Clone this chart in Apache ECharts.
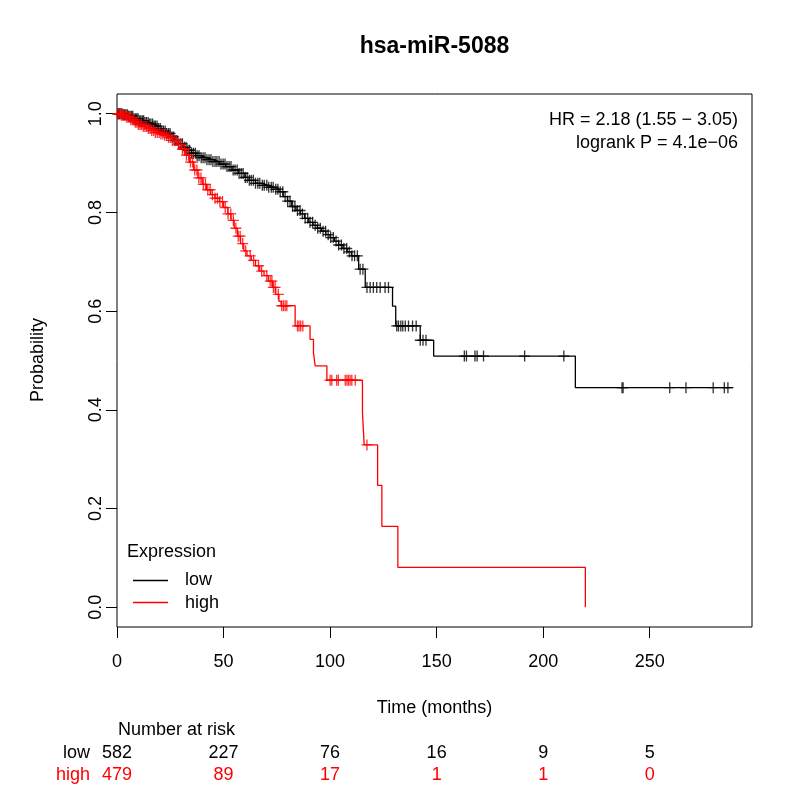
<!DOCTYPE html>
<html>
<head>
<meta charset="utf-8">
<script src="https://cdn.jsdelivr.net/npm/echarts@6/dist/echarts.min.js"></script>
<style>
  html, body { margin: 0; padding: 0; background: #fff; }
  #chart { width: 800px; height: 800px; }
</style>
</head>
<body>
<div id="chart"></div>
<script>
// Kaplan-Meier steps: time of each step and survival after it
const lowTimes = [0, 3, 5, 8, 10, 13, 15, 17, 19, 21, 23, 25, 27, 29, 31, 33, 35, 37, 39, 42, 45, 48, 51, 54, 57, 60, 62, 65, 68, 71, 74, 76, 78, 80, 82, 84, 86, 88, 90, 92, 94, 96, 98, 100, 102, 104, 106, 108, 110, 113.4, 116.5, 129.3, 130.8, 142.3, 148.6, 215.1];
const lowSurv  = [1.0, 0.998, 0.995, 0.99, 0.986, 0.982, 0.979, 0.975, 0.97, 0.965, 0.96, 0.953, 0.946, 0.939, 0.932, 0.926, 0.92, 0.915, 0.911, 0.907, 0.903, 0.898, 0.893, 0.886, 0.879, 0.871, 0.865, 0.859, 0.855, 0.851, 0.847, 0.842, 0.832, 0.823, 0.812, 0.804, 0.797, 0.788, 0.78, 0.774, 0.768, 0.762, 0.755, 0.749, 0.742, 0.734, 0.727, 0.72, 0.712, 0.685, 0.648, 0.61, 0.57, 0.541, 0.509, 0.445];
const lowEnd = 289;

const highTimes = [0, 2, 4, 6, 8, 10, 12, 14, 16, 18, 20, 22, 24, 26, 28, 30, 32, 34, 36, 38, 40, 42, 44, 46, 48, 50, 52, 53.5, 55, 56.5, 58, 59.5, 61, 63, 65, 67, 69, 71, 73, 74.5, 76, 77, 83.6, 90.6, 92.2, 93, 98.5, 115.2, 116, 122.3, 124.3, 131.8, 219.8];
const highSurv  = [1.0, 0.997, 0.993, 0.988, 0.983, 0.978, 0.974, 0.97, 0.966, 0.962, 0.959, 0.956, 0.952, 0.946, 0.938, 0.928, 0.916, 0.902, 0.886, 0.87, 0.857, 0.846, 0.836, 0.829, 0.822, 0.81, 0.797, 0.784, 0.768, 0.752, 0.737, 0.722, 0.712, 0.703, 0.692, 0.681, 0.672, 0.661, 0.648, 0.634, 0.62, 0.611, 0.57, 0.543, 0.516, 0.489, 0.46, 0.394, 0.329, 0.247, 0.164, 0.081, 0.0];

// censoring times
const lowCensor = [0.3, 0.8, 1.2, 1.9, 2.4, 3.1, 3.6, 4.2, 4.9, 5.5, 6.1, 6.8, 7.4, 8.0, 8.7, 9.3, 9.9, 10.6, 11.2, 11.9, 12.5, 13.1, 13.8, 14.6, 15.2, 15.9, 16.7, 17.4, 18.0, 18.8, 19.5, 20.3, 21.0, 21.8, 22.6, 23.3, 24.1, 24.9, 25.8, 26.6, 27.3, 28.2, 29.0, 29.9, 30.7, 31.6, 32.4, 33.3, 34.1, 35.0, 35.9, 36.8, 37.6, 38.5, 39.5, 40.4, 41.3, 42.2, 43.2, 44.1, 45.0, 46.0, 46.9, 47.9, 48.8, 49.8, 50.7, 51.6, 52.6, 53.5, 54.5, 55.4, 56.4, 57.3, 58.3, 59.2, 60.2, 61.1, 62.1, 63.0, 64.0, 65.0, 66.1, 67.0, 68.2, 69.1, 70.3, 71.2, 72.4, 73.3, 74.5, 75.5, 76.6, 77.8, 78.9, 80.1, 81.2, 82.4, 83.5, 84.7, 85.9, 87.0, 88.3, 89.5, 90.6, 91.8, 93.0, 94.2, 95.4, 96.7, 97.9, 99.1, 100.3, 101.5, 102.8, 104.0, 105.3, 106.5, 107.8, 109.0, 110.3, 111.5, 112.8, 114.1, 115.4, 117.3, 118.8, 120.3, 121.9, 123.5, 125.8, 127.4, 131.3, 132.1, 133.2, 134.1, 135.3, 136.8, 138.7, 140.4, 142.3, 143.6, 145.0, 163.0, 164.0, 168.0, 169.0, 172.0, 191.3, 209.7, 237.0, 237.5, 259.4, 267.0, 279.8, 285.0, 286.7];
const highCensor = [0.4, 0.9, 1.5, 2.1, 2.7, 3.3, 3.9, 4.6, 5.2, 5.9, 6.5, 7.2, 7.9, 8.6, 9.3, 10.0, 10.8, 11.5, 12.3, 13.1, 13.9, 14.7, 15.5, 16.3, 17.2, 18.0, 18.9, 19.8, 20.6, 21.5, 22.4, 23.3, 24.2, 25.1, 26.0, 27.0, 27.9, 28.8, 29.8, 30.7, 31.7, 32.6, 33.6, 34.5, 35.5, 36.5, 37.5, 38.4, 39.4, 40.5, 41.5, 42.6, 43.7, 44.8, 46.0, 47.1, 48.3, 49.5, 50.8, 52.1, 53.4, 54.6, 55.8, 56.9, 57.8, 59.0, 60.4, 62.5, 64.1, 66.4, 67.9, 70.3, 71.9, 72.7, 73.4, 74.2, 75.7, 77.3, 78.1, 78.9, 79.7, 84.7, 85.4, 86.2, 87.2, 100.0, 100.8, 103.1, 103.9, 107.1, 107.9, 108.6, 109.4, 110.2, 111.8, 117.3];

// number at risk table
const riskTimes = [0, 50, 100, 150, 200, 250];
const riskLow = [582, 227, 76, 16, 9, 5];
const riskHigh = [479, 89, 17, 1, 1, 0];

const xTicks = [0, 50, 100, 150, 200, 250];
const yTicks = [0, 0.2, 0.4, 0.6, 0.8, 1.0];

const FONT = 'Liberation Sans, Arial, Helvetica, sans-serif';
const RED = '#ff0000';
const PLUS = 'path://M4.4,0H5.6V4.4H10V5.6H5.6V10H4.4V5.6H0V4.4H4.4Z';

function survAt(times, surv, t) {
    let s = surv[0];
    for (let i = 0; i < times.length; i++) {
        if (times[i] <= t) s = surv[i];
    }
    return s;
}

function curveData(times, surv, end) {
    const d = times.map((t, i) => [t, surv[i]]);
    if (end != null) d.push([end, surv[surv.length - 1]]);
    return d;
}

function censorData(times, surv, cens) {
    return cens.map(t => [t, survAt(times, surv, t)]);
}

const chart = echarts.init(document.getElementById('chart'));

const axisCommon = {
    type: 'value',
    axisLine: { show: false, onZero: false },
    splitLine: { show: false },
    axisTick: { show: true, inside: false, length: 11, lineStyle: { color: '#000', width: 1 } },
    axisLabel: { color: '#000', fontFamily: FONT, fontSize: 18 }
};

chart.setOption({
    animation: false,
    grid: { left: 117, right: 48, top: 94, bottom: 173, show: true, borderColor: '#000', borderWidth: 1 },
    xAxis: Object.assign({}, axisCommon, {
        min: 0, max: 298,
        axisTick: Object.assign({}, axisCommon.axisTick, { customValues: xTicks }),
        axisLabel: Object.assign({}, axisCommon.axisLabel, { customValues: xTicks, margin: 26 })
    }),
    yAxis: Object.assign({}, axisCommon, {
        min: -0.04, max: 1.04,
        axisTick: Object.assign({}, axisCommon.axisTick, { customValues: yTicks }),
        axisLabel: Object.assign({}, axisCommon.axisLabel, {
            customValues: yTicks, rotate: 90, margin: 12,
            formatter: v => v.toFixed(1)
        })
    }),
    series: [
        {
            name: 'low', type: 'line', step: 'end', symbol: 'none',
            lineStyle: { color: '#000', width: 1.3 },
            data: curveData(lowTimes, lowSurv, lowEnd), silent: true, z: 2
        },
        {
            name: 'low censor', type: 'scatter', symbol: PLUS, symbolSize: 11,
            itemStyle: { color: '#000' },
            data: censorData(lowTimes, lowSurv, lowCensor), silent: true, z: 3
        },
        {
            name: 'high', type: 'line', step: 'end', symbol: 'none',
            lineStyle: { color: RED, width: 1.3 },
            data: curveData(highTimes, highSurv, null), silent: true, z: 4
        },
        {
            name: 'high censor', type: 'scatter', symbol: PLUS, symbolSize: 11,
            itemStyle: { color: RED },
            data: censorData(highTimes, highSurv, highCensor), silent: true, z: 5
        }
    ]
});

// texts placed around the plot
const midX = (117 + 752) / 2;
const txt = (x, y, text, opts) => ({
    type: 'text', x: x, y: y, silent: true,
    style: Object.assign({ text: text, fill: '#000', font: '18px ' + FONT, textAlign: 'left', textVerticalAlign: 'middle' }, opts || {})
});

const graphics = [
    txt(midX, 47, 'hsa-miR-5088', { font: 'bold 23px ' + FONT, textAlign: 'center' }),
    txt(midX, 708, 'Time (months)', { textAlign: 'center' }),
    Object.assign(txt(0, 0, 'Probability', { textAlign: 'center' }), { x: 38, y: 360, rotation: Math.PI / 2 }),
    txt(738, 120, 'HR = 2.18 (1.55 \u2212 3.05)', { textAlign: 'right' }),
    txt(738, 143, 'logrank P = 4.1e\u221206', { textAlign: 'right' }),
    // legend
    txt(127, 552, 'Expression'),
    { type: 'line', silent: true, shape: { x1: 133, y1: 580.5, x2: 168, y2: 580.5 }, style: { stroke: '#000', lineWidth: 1.3 } },
    { type: 'line', silent: true, shape: { x1: 133, y1: 602.5, x2: 168, y2: 602.5 }, style: { stroke: RED, lineWidth: 1.3 } },
    txt(185, 580, 'low'),
    txt(185, 603, 'high'),
    // risk table
    txt(118, 730, 'Number at risk'),
    txt(90, 753, 'low', { textAlign: 'right' }),
    txt(90, 775, 'high', { textAlign: 'right', fill: RED })
];

riskTimes.forEach((t, i) => {
    const px = chart.convertToPixel({ xAxisIndex: 0 }, t);
    graphics.push(txt(px, 753, String(riskLow[i]), { textAlign: 'center' }));
    graphics.push(txt(px, 775, String(riskHigh[i]), { textAlign: 'center', fill: RED }));
});

chart.setOption({ graphic: graphics });
</script>
</body>
</html>
